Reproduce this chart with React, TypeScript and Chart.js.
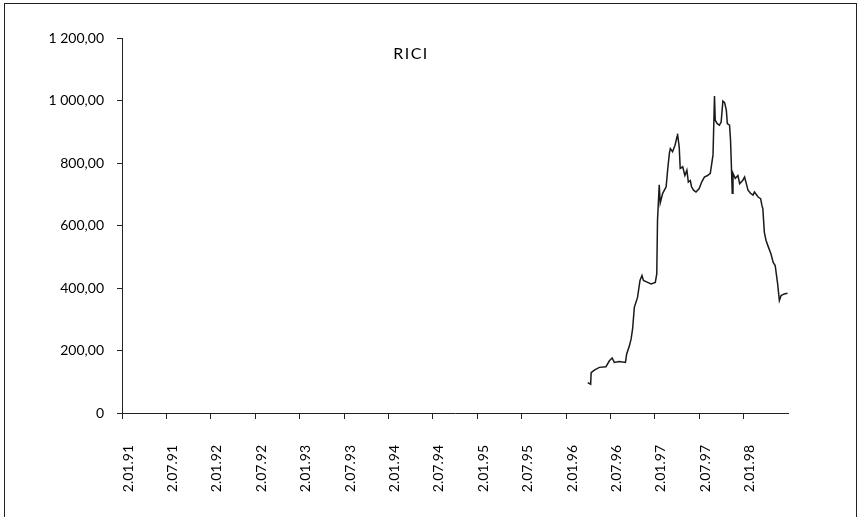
import React, { useEffect, useRef } from "react";
import { Chart, registerables } from "chart.js";

Chart.register(...registerables);

const chartTitle = "RICI";

const xTickLabels = [
  "2.01.91", "2.07.91", "2.01.92", "2.07.92", "2.01.93", "2.07.93", "2.01.94", "2.07.94",
  "2.01.95", "2.07.95", "2.01.96", "2.07.96", "2.01.97", "2.07.97", "2.01.98",
];

const yTicks = [0, 200, 400, 600, 800, 1000, 1200];

const dates = [
  "1996-03-30", "1996-04-12", "1996-04-14", "1996-04-27", "1996-05-17", "1996-06-14", "1996-06-28",
  "1996-07-09", "1996-07-18", "1996-08-08", "1996-09-03", "1996-09-08", "1996-09-19", "1996-09-26",
  "1996-10-02", "1996-10-09", "1996-10-22", "1996-11-02", "1996-11-10", "1996-11-16", "1996-12-03",
  "1996-12-17", "1997-01-04", "1997-01-10",
  "1997-01-13", "1997-01-20", "1997-01-24", "1997-02-04", "1997-02-18", "1997-02-24", "1997-03-01",
  "1997-03-05", "1997-03-14", "1997-03-24", "1997-04-02", "1997-04-04", "1997-04-11", "1997-04-15",
  "1997-04-25", "1997-05-04", "1997-05-12", "1997-05-18", "1997-05-26", "1997-05-31", "1997-06-09",
  "1997-06-19", "1997-07-02", "1997-07-12", "1997-07-23", "1997-08-06", "1997-08-17", "1997-08-28",
  "1997-09-04", "1997-09-07", "1997-09-15", "1997-09-24", "1997-10-01", "1997-10-08", "1997-10-15",
  "1997-10-22", "1997-10-26", "1997-11-05", "1997-11-09", "1997-11-12", "1997-11-16", "1997-11-19",
  "1997-11-28", "1997-12-09", "1997-12-16", "1997-12-29", "1998-01-06", "1998-01-13", "1998-01-20",
  "1998-01-30", "1998-02-10", "1998-02-16", "1998-03-01", "1998-03-11", "1998-03-16", "1998-03-20",
  "1998-03-26", "1998-04-03", "1998-04-13", "1998-04-23", "1998-05-02", "1998-05-10", "1998-05-20",
  "1998-05-27", "1998-06-04", "1998-06-17", "1998-06-30",
];

const riciValues = [
  97, 92, 129, 137, 146, 148, 167,
  176, 162, 165, 162, 189, 215, 237,
  269, 338, 370, 424, 440, 424, 418,
  413, 418, 445,
  617, 730, 672, 703, 724, 777, 831,
  846, 836, 857, 884, 894, 851, 783,
  788, 760, 777, 739, 744, 724, 713,
  707, 718, 739, 755, 760, 767, 826,
  1014, 937, 926, 921, 931, 998, 993,
  969, 926, 921, 874, 803, 703, 767,
  751, 760, 734, 745, 755, 734, 713,
  703, 697, 707, 691, 686, 665, 654,
  579, 552, 530, 509, 482, 472, 413,
  360, 376, 381, 383,
];

function monthIndex(s: string): number {
  const [y, m, d] = s.split("-").map(Number);
  return (y - 1991) * 12 + (m - 1) + (d - 2) / 30;
}

function formatY(v: number): string {
  if (v === 0) return "0";
  const [intPart, dec] = v.toFixed(2).split(".");
  const withSpaces = intPart.replace(/\B(?=(\d{3})+(?!\d))/g, " ");
  return withSpaces + "," + dec;
}

const FONT = "Lato, 'Open Sans', sans-serif";

export default function App() {
  const canvasRef = useRef<HTMLCanvasElement | null>(null);

  useEffect(() => {
    document.body.style.margin = "0";
    const canvas = canvasRef.current;
    if (!canvas) return;

    const titlePlugin = {
      id: "inlineTitle",
      afterDraw(chart: any) {
        const ctx = chart.ctx;
        ctx.save();
        ctx.font = `16px ${FONT}`;
        (ctx as any).letterSpacing = "1.5px";
        ctx.fillStyle = "#000";
        ctx.textAlign = "center";
        ctx.textBaseline = "middle";
        ctx.fillText(chartTitle, 411, 54);
        ctx.restore();
      },
    };

    const points = dates.map((d, i) => ({ x: monthIndex(d), y: riciValues[i] }));

    const chart = new Chart(canvas, {
      type: "line",
      data: {
        datasets: [
          {
            label: chartTitle,
            data: points,
            borderColor: "#1a1a1a",
            borderWidth: 1.5,
            pointRadius: 0,
            tension: 0,
            fill: false,
          },
        ],
      },
      options: {
        responsive: false,
        animation: false,
        layout: { padding: { left: 0, right: 71, top: 38, bottom: 0 } },
        plugins: {
          legend: { display: false },
          tooltip: { enabled: false },
          title: { display: false },
        },
        scales: {
          x: {
            type: "linear",
            min: 0,
            max: 90,
            afterBuildTicks: (scale: any) => {
              scale.ticks = xTickLabels.map((_, i) => ({ value: i * 6 }));
            },
            afterFit: (scale: any) => {
              scale.height = 104;
            },
            ticks: {
              callback: (v: any) => {
                const idx = Math.round(Number(v) / 6);
                return xTickLabels[idx] ?? "";
              },
              autoSkip: false,
              maxRotation: 90,
              minRotation: 90,
              padding: 26,
              labelOffset: 6,
              color: "#000",
              font: { family: FONT, size: 14 },
            },
            grid: {
              drawOnChartArea: false,
              drawTicks: true,
              tickLength: 6,
              color: "#222",
              lineWidth: 1,
            },
            border: { display: true, color: "#222", width: 1 },
          },
          y: {
            min: 0,
            max: 1200,
            afterBuildTicks: (scale: any) => {
              scale.ticks = yTicks.map((v) => ({ value: v }));
            },
            afterFit: (scale: any) => {
              scale.width = 122;
            },
            ticks: {
              callback: (v: any) => formatY(Number(v)),
              padding: 13,
              color: "#000",
              font: { family: FONT, size: 14 },
            },
            grid: {
              drawOnChartArea: false,
              drawTicks: true,
              tickLength: 5,
              color: "#222",
              lineWidth: 1,
            },
            border: { display: true, color: "#222", width: 1 },
          },
        },
      },
      plugins: [titlePlugin],
    });

    return () => {
      chart.destroy();
    };
  }, []);

  return (
    <div style={{ position: "relative", width: 859, height: 517, overflow: "hidden", background: "#fff" }}>
      <div
        style={{
          position: "absolute",
          left: 4,
          top: 3,
          width: 853,
          height: 540,
          border: "1.5px solid #222",
          boxSizing: "border-box",
        }}
      />
      <canvas ref={canvasRef} width={859} height={517} style={{ position: "absolute", left: 0, top: 0 }} />
    </div>
  );
}
